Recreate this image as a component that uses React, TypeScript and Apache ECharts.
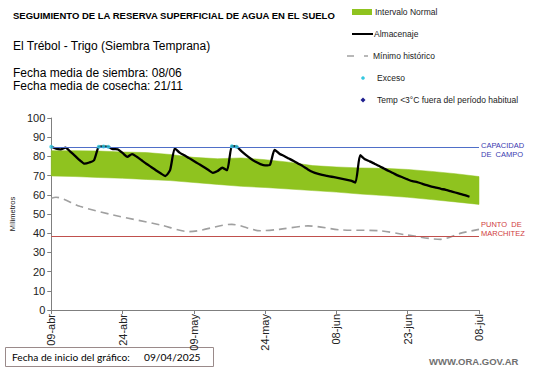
import React, { useEffect, useRef } from 'react';
import * as echarts from 'echarts';

const xTickLabels = ['09-abr', '24-abr', '09-may', '24-may', '08-jun', '23-jun', '08-jul'];

const bandDays = [0, 5, 10, 15, 20, 25, 30, 35, 40, 45, 50, 55, 60, 65, 70, 75, 80, 85, 90];
const bandUpper = [83, 83, 82.8, 82.3, 82, 81, 79.5, 78.8, 79.2, 78.3, 77, 75.2, 74.5, 74, 73.8, 73.2, 72.2, 71, 69.5];
const bandLower = [69.8, 69.5, 69, 68.6, 68, 67.4, 66.4, 65.4, 64.4, 63.8, 63, 62.2, 61.4, 60.4, 59.6, 58.7, 57.5, 56.3, 55];

// Almacenaje, one value per day from 09-abr (day 0)
const storageValues = [
  85, 84, 83.7, 84.6, 82.5, 80.3, 78, 76.2, 76.8, 78,
  85, 85.2, 85, 83.8, 83.7, 81.8, 79.8, 81.2, 79.8, 78,
  76.2, 74.5, 72.8, 71.2, 69.8, 72.8, 84.2, 82, 80.6, 79.1,
  77.6, 76.1, 74.6, 73, 71.4, 72.4, 74.1, 72.8, 85.3, 85,
  82.8, 80.7, 78.8, 77.2, 76, 75.3, 75.6, 83.4, 81.4, 80.2,
  78.9, 77.6, 76.2, 74.8, 73.2, 71.9, 71, 70.4, 69.9, 69.4,
  68.9, 68.4, 67.9, 67.4, 66.4, 80.6, 78.5, 77.4, 76.2, 75,
  73.7, 72.4, 71.2, 70, 69, 68, 67.1, 66.6, 65.8, 65,
  64.3, 63.7, 63.1, 62.6, 61.9, 61.2, 60.5, 59.8, 59,
];

const minDays = [0, 1, 6, 13, 23, 29, 38, 44, 48, 54, 61, 69, 75, 82, 86, 90];
const minValues = [58.2, 58.7, 54, 49.5, 44.3, 40.8, 44.6, 41.3, 42, 43.8, 41.7, 41.3, 39, 36.8, 39.9, 42];

const excessDays = [0, 10, 11, 12, 38, 39];
const excessValues = [85, 85, 85.2, 85, 85.3, 85];

const fieldCapacity = 85;
const wiltingPoint = 38.5;

const FONT = '"Liberation Sans", Arial, sans-serif';
const GREEN = '#8fc31f';

export default function App() {
  const ref = useRef<HTMLDivElement>(null);

  useEffect(() => {
    if (!ref.current) return;
    const chart = echarts.init(ref.current, null, { renderer: 'svg' });

    const txt = (text: string, x: number, y: number, opts: any = {}) => ({
      type: 'text',
      x,
      y,
      silent: true,
      style: {
        text,
        fill: opts.fill || '#000',
        fontSize: opts.fontSize || 12,
        fontFamily: opts.fontFamily || FONT,
        fontWeight: opts.fontWeight || 'normal',
        align: opts.align || 'left',
        verticalAlign: 'middle',
      },
    });

    const bandRender = (params: any, api: any) => {
      if (params.dataIndex !== 0) return null;
      const top = bandDays.map((d, i) => api.coord([d, bandUpper[i]]));
      const bottom = bandDays.map((d, i) => api.coord([d, bandLower[i]])).reverse();
      return {
        type: 'polygon',
        shape: { points: top.concat(bottom) },
        style: { fill: GREEN, stroke: GREEN, lineWidth: 0.5 },
        silent: true,
      };
    };

    chart.setOption({
      animation: false,
      backgroundColor: '#ffffff',
      grid: { left: 33, right: 62, top: 118, bottom: 58, containLabel: false },
      xAxis: {
        type: 'value',
        min: 0,
        max: 90,
        interval: 15,
        axisLine: { show: true, lineStyle: { color: '#7f7f7f', width: 1 } },
        axisTick: { show: true, length: 4, lineStyle: { color: '#7f7f7f' } },
        splitLine: { show: false },
        axisLabel: {
          rotate: 90,
          fontSize: 11,
          fontFamily: FONT,
          color: '#222',
          margin: 4,
          formatter: (v: number) => xTickLabels[Math.round(v / 15)] ?? '',
        },
      },
      yAxis: {
        type: 'value',
        min: 0,
        max: 100,
        interval: 10,
        name: 'Mílimetros',
        nameLocation: 'middle',
        nameRotate: 90,
        nameGap: 25,
        nameTextStyle: { fontSize: 7.5, fontFamily: FONT, color: '#222' },
        axisLine: { show: true, lineStyle: { color: '#7f7f7f', width: 1 } },
        axisTick: { show: true, length: 4, lineStyle: { color: '#7f7f7f' } },
        splitLine: { show: false },
        axisLabel: { fontSize: 11, fontFamily: FONT, color: '#222', margin: 6 },
      },
      series: [
        {
          name: 'Intervalo Normal',
          type: 'custom',
          renderItem: bandRender,
          data: [[bandDays[0], bandUpper[0]]],
          silent: true,
          z: 1,
        },
        {
          name: 'Mínimo histórico',
          type: 'line',
          data: minDays.map((d, i) => [d, minValues[i]]),
          symbol: 'none',
          smooth: 0.3,
          lineStyle: { color: '#a0a0a0', width: 1.6, type: [8, 5] },
          z: 3,
        },
        {
          name: 'Almacenaje',
          type: 'line',
          data: storageValues.map((v, i) => [i, v]),
          symbol: 'none',
          smooth: 0.2,
          lineStyle: { color: '#000', width: 2.3 },
          z: 4,
          markLine: {
            silent: true,
            symbol: ['none', 'none'],
            label: { show: false },
            data: [
              { yAxis: fieldCapacity, lineStyle: { color: '#4f6fc8', width: 1, type: 'solid' } },
              { yAxis: wiltingPoint, lineStyle: { color: '#c0504d', width: 1, type: 'solid' } },
            ],
          },
        },
        {
          name: 'Exceso',
          type: 'scatter',
          data: excessDays.map((d, i) => [d, excessValues[i]]),
          symbol: 'circle',
          symbolSize: 4,
          itemStyle: { color: '#35c8e0' },
          z: 5,
        },
      ],
      graphic: [
        txt('SEGUIMIENTO DE LA RESERVA SUPERFICIAL DE AGUA EN EL SUELO', 13, 15, { fontSize: 9.5, fontWeight: 'bold' }),
        txt('El Trébol - Trigo (Siembra Temprana)', 13, 46, { fontSize: 12 }),
        txt('Fecha media de siembra: 08/06', 13, 73, { fontSize: 12 }),
        txt('Fecha media de cosecha: 21/11', 13, 86, { fontSize: 12 }),
        // legend
        { type: 'rect', silent: true, shape: { x: 352, y: 9, width: 20, height: 6 }, style: { fill: GREEN } },
        txt('Intervalo Normal', 375, 12, { fontSize: 8.5, fill: '#222' }),
        { type: 'line', silent: true, shape: { x1: 352, y1: 34, x2: 373, y2: 34 }, style: { stroke: '#000', lineWidth: 2 } },
        txt('Almacenaje', 374, 34, { fontSize: 8.5, fill: '#222' }),
        { type: 'line', silent: true, shape: { x1: 347, y1: 56, x2: 354, y2: 56 }, style: { stroke: '#a0a0a0', lineWidth: 1.5 } },
        { type: 'line', silent: true, shape: { x1: 364, y1: 56, x2: 368, y2: 56 }, style: { stroke: '#a0a0a0', lineWidth: 1.5 } },
        txt('Mínimo histórico', 373, 56, { fontSize: 8.5, fill: '#222' }),
        { type: 'circle', silent: true, shape: { cx: 363, cy: 78, r: 1.8 }, style: { fill: '#35c8e0' } },
        txt('Exceso', 377, 78, { fontSize: 8.5, fill: '#222' }),
        { type: 'polygon', silent: true, shape: { points: [[363, 97.5], [365.5, 100], [363, 102.5], [360.5, 100]] }, style: { fill: '#1f1f8f' } },
        txt('Temp <3°C fuera del período habitual', 377, 100, { fontSize: 8.5, fill: '#222' }),
        // right labels
        txt('CAPACIDAD', 481, 145, { fontSize: 7.5, fill: '#3a3ab0' }),
        txt('DE  CAMPO', 481, 154.5, { fontSize: 7.5, fill: '#3a3ab0' }),
        txt('PUNTO  DE', 481, 224.5, { fontSize: 7.5, fill: '#d04040' }),
        txt('MARCHITEZ', 481, 233.5, { fontSize: 7.5, fill: '#d04040' }),
        // bottom box
        { type: 'rect', silent: true, shape: { x: 5.5, y: 347.5, width: 208, height: 19 }, style: { fill: '#fff', stroke: '#9a8a8a', lineWidth: 1 } },
        txt('Fecha de inicio del gráfico:', 12, 357, { fontSize: 10.2, fontFamily: 'Lato, "Liberation Sans", sans-serif' }),
        txt('09/04/2025', 144, 357, { fontSize: 10.2, fontFamily: 'Lato, "Liberation Sans", sans-serif' }),
        txt('WWW.ORA.GOV.AR', 429, 361, { fontSize: 9.5, fontWeight: 'bold', fill: '#707070' }),
      ],
    });

    return () => chart.dispose();
  }, []);

  return (
    <div
      ref={ref}
      style={{ position: 'fixed', left: 0, top: 0, width: 541, height: 368, background: '#fff' }}
    />
  );
}
